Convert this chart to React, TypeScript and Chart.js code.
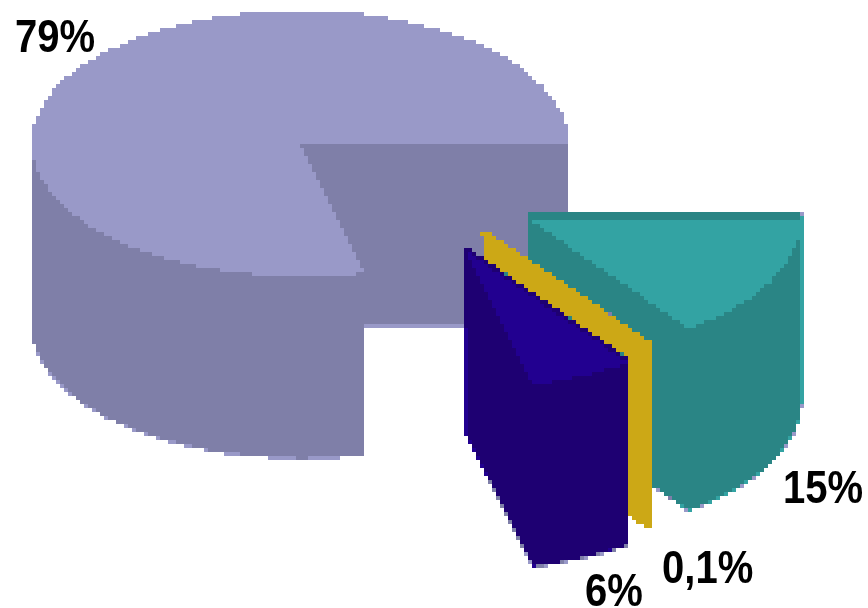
import React, { useEffect, useRef } from "react";
import { Chart, registerables } from "chart.js";

Chart.register(...registerables);

// Data, clockwise from 3 o'clock
const categories = ["A", "B", "C", "D"];
const seriesValues = [15, 0.1, 6, 79];
const valueLabels = ["15%", "0,1%", "6%", "79%"];

// Styling
const topColors = ["#33A3A3", "#CCA816", "#220090", "#9999C8"];
const sideColors = ["#2A8585", "#CCA816", "#1E0072", "#7F7FA8"];
const borderWidths = [0, 5, 0, 0];
const explodeDistance = [274, 255, 270, 0];
const explodeAngleDeg = [33.7, 43.9, 52.4, 0];
const sliceScale = [1.02, 1.05, 1.05, 1];
const sliceLift = [7, 0, 4, 0];
const drawOrder = [3, 0, 1, 2];
const TILT = 0.495;
const DEPTH = 182;

const labelBoxes = [
  { left: 783, top: 464 },
  { left: 662, top: 544 },
  { left: 585, top: 567 },
  { left: 15, top: 13 },
];

const hexToRgb = (h: string) => [1, 3, 5].map((p) => parseInt(h.slice(p, p + 2), 16));
const palette = [[255, 255, 255], ...topColors.map(hexToRgb), ...sideColors.map(hexToRgb)];

const pie3d = {
  id: "pie3d",
  beforeDatasetsDraw(chart: any) {
    const ctx = chart.ctx;
    const arcs = chart.getDatasetMeta(0).data;
    drawOrder.forEach((i) => {
      const arc = arcs[i];
      const base = arc.options;
      const side = Object.create(base);
      side.backgroundColor = sideColors[i];
      side.borderColor = sideColors[i];
      const top = Object.create(base);
      top.backgroundColor = topColors[i];
      top.borderColor = topColors[i];
      const a = (explodeAngleDeg[i] * Math.PI) / 180;
      const sx = Math.cos(a) * explodeDistance[i];
      const sy = Math.sin(a) * explodeDistance[i];
      const s = sliceScale[i];
      const paint = (dy: number, options: any) => {
        ctx.save();
        ctx.translate(sx + arc.x, dy + arc.y + sy * TILT);
        ctx.scale(s, TILT * s);
        ctx.translate(-arc.x, -arc.y);
        arc.options = options;
        arc.draw(ctx);
        ctx.restore();
      };
      for (let d = DEPTH; d >= -sliceLift[i]; d -= 1) paint(d, side);
      paint(0, top);
      arc.options = base;
    });
    return false;
  },
  // Hard, blocky edges: every pixel is snapped to the nearest chart colour
  afterDraw(chart: any) {
    const ctx = chart.ctx;
    const { width, height } = chart.canvas;
    const img = ctx.getImageData(0, 0, width, height);
    const px = img.data;
    for (let p = 0; p < px.length; p += 4) {
      const al = px[p + 3] / 255;
      const r = px[p] * al + 255 * (1 - al);
      const g = px[p + 1] * al + 255 * (1 - al);
      const b = px[p + 2] * al + 255 * (1 - al);
      let best = palette[0];
      let bestD = Infinity;
      for (const c of palette) {
        const dist = (c[0] - r) ** 2 + (c[1] - g) ** 2 + (c[2] - b) ** 2;
        if (dist < bestD) {
          bestD = dist;
          best = c;
        }
      }
      px[p] = best[0];
      px[p + 1] = best[1];
      px[p + 2] = best[2];
      px[p + 3] = 255;
    }
    ctx.putImageData(img, 0, 0);
  },
};

export default function App() {
  const ref = useRef<HTMLCanvasElement>(null);
  useEffect(() => {
    const chart = new Chart(ref.current!, {
      type: "pie",
      data: {
        labels: categories,
        datasets: [
          {
            data: seriesValues,
            backgroundColor: topColors,
            borderColor: topColors,
            borderWidth: borderWidths,
          },
        ],
      },
      options: {
        responsive: false,
        maintainAspectRatio: false,
        animation: false,
        devicePixelRatio: 0.25,
        rotation: 90,
        radius: 268,
        layout: { padding: { left: 0, top: 0, right: 268, bottom: 320 } },
        plugins: { legend: { display: false }, tooltip: { enabled: false } },
      } as any,
      plugins: [pie3d],
    } as any);
    return () => chart.destroy();
  }, []);
  return (
    <div style={{ position: "fixed", left: 0, top: 0, width: 868, height: 608, background: "#fff", overflow: "hidden" }}>
      <canvas ref={ref} width={868} height={608} style={{ imageRendering: "pixelated", display: "block", width: 868, height: 608 }} />
      {valueLabels.map((t, i) => (
        <div
          key={t}
          style={{
            position: "absolute",
            left: labelBoxes[i].left,
            top: labelBoxes[i].top,
            font: "bold 46px/46px 'Liberation Sans', sans-serif",
            color: "#000",
            whiteSpace: "nowrap",
            transform: "scaleX(0.87)",
            transformOrigin: "left top",
          }}
        >
          {t}
        </div>
      ))}
    </div>
  );
}
